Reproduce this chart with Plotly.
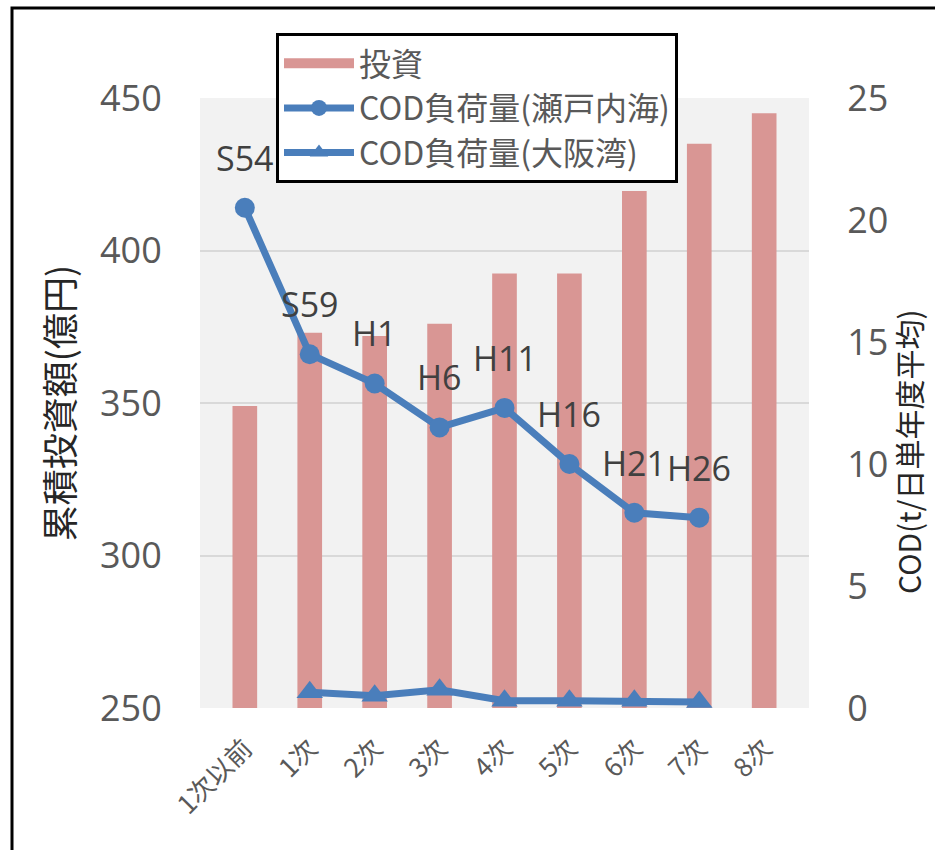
import plotly.graph_objects as go

# 累積投資額と COD 負荷量の推移
categories = ["1次以前", "1次", "2次", "3次", "4次", "5次", "6次", "7次", "8次"]
investment = [349, 373, 372, 376, 392.5, 392.5, 419.5, 435, 445]          # 億円
cod_seto = [20.5, 14.5, 13.3, 11.5, 12.3, 10.0, 8.0, 7.8, None]           # t/日
cod_osaka = [None, 0.65, 0.5, 0.75, 0.3, 0.3, 0.3, 0.25, None]            # t/日
period_labels = ["S54", "S59", "H1", "H6", "H11", "H16", "H21", "H26"]

left_ticks = [250, 300, 350, 400, 450]
right_ticks = [0, 5, 10, 15, 20, 25]

BAR_COLOR = "#D99694"
LINE_COLOR = "#4A7EBB"
TEXT_COLOR = "#595959"
FONT = "Open Sans, Noto Sans CJK JP, sans-serif"
CJK = "Noto Sans CJK JP, sans-serif"

fig = go.Figure()

fig.add_trace(go.Bar(
    x=categories, y=investment, name="投資",
    marker=dict(color=BAR_COLOR, line=dict(width=0)),
    width=0.38, yaxis="y", showlegend=False, legendgroup="inv",
))
# wide swatch for the bar series in the legend
fig.add_trace(go.Scatter(
    x=[None], y=[None], name="投資", mode="lines", legendgroup="inv",
    line=dict(color=BAR_COLOR, width=11),
))

fig.add_trace(go.Scatter(
    x=categories, y=cod_seto, name="COD負荷量(瀬戸内海)",
    mode="lines+markers", yaxis="y2", legendgroup="seto",
    line=dict(color=LINE_COLOR, width=7),
    marker=dict(symbol="circle", size=20, color=LINE_COLOR),
))

fig.add_trace(go.Scatter(
    x=categories, y=cod_osaka, name="COD負荷量(大阪湾)",
    mode="lines+markers", yaxis="y2", legendgroup="osaka",
    line=dict(color=LINE_COLOR, width=7),
    marker=dict(symbol="triangle-up", size=23, color=LINE_COLOR),
))

# 年度ラベル (瀬戸内海の各点の上)
annotations = []
for cat, val, lab in zip(categories, cod_seto, period_labels):
    annotations.append(dict(
        x=cat, y=val, xref="x", yref="y2", text=lab, showarrow=False,
        yshift=50, font=dict(family=FONT, size=34, color="#404040"),
    ))

# plot area in pixels: x 200..809, y 98..708
l, r, t, b = 200, 126, 98, 142
W, H = 935, 850
pw, ph = W - l - r, H - t - b

def px_x(v):
    return (v - l) / pw

def px_y(v):
    return (H - b - v) / ph

# right axis title, set close to the right edge
annotations.append(dict(
    x=px_x(908), y=px_y(452), xref="paper", yref="paper",
    xanchor="center", yanchor="middle", textangle=-90, showarrow=False,
    text="COD(t/日単年度平均)", borderpad=0,
    font=dict(family=CJK, size=30, color="#262626"),
))

shapes = [dict(
    type="rect", xref="paper", yref="paper",
    x0=px_x(12), x1=px_x(950), y0=px_y(870), y1=px_y(8),
    line=dict(color="black", width=3), fillcolor="rgba(0,0,0,0)", layer="above",
)]

fig.update_layout(
    width=W, height=H,
    margin=dict(l=l, r=r, t=t, b=b, pad=0, autoexpand=False),
    paper_bgcolor="white",
    plot_bgcolor="#F2F2F2",
    font=dict(family=FONT, color=TEXT_COLOR),
    showlegend=True,
    legend=dict(
        x=px_x(276), y=px_y(33), xanchor="left", yanchor="top",
        bgcolor="white", bordercolor="black", borderwidth=3,
        font=dict(family=CJK, size=32, color=TEXT_COLOR),
        itemwidth=70, traceorder="grouped", tracegroupgap=0,
    ),
    xaxis=dict(
        type="category", tickangle=-45, showgrid=False, zeroline=False,
        tickfont=dict(family=CJK, size=26, color=TEXT_COLOR),
        showline=False, ticks="outside", ticklen=14,
        tickcolor="rgba(0,0,0,0)", automargin=False,
    ),
    yaxis=dict(
        range=[250, 450], tickvals=left_ticks, showgrid=True,
        gridcolor="#D9D9D9", gridwidth=2, zeroline=False,
        ticks="outside", ticklen=30, tickcolor="rgba(0,0,0,0)",
        tickfont=dict(family=FONT, size=36, color=TEXT_COLOR),
        automargin=False,
        title=dict(text="累積投資額(億円)", standoff=14,
                   font=dict(family=CJK, size=36, color="#262626")),
    ),
    yaxis2=dict(
        range=[0, 25], tickvals=right_ticks, overlaying="y", side="right",
        showgrid=False, zeroline=False,
        ticks="outside", ticklen=30, tickcolor="rgba(0,0,0,0)",
        tickfont=dict(family=FONT, size=36, color=TEXT_COLOR),
        automargin=False,
    ),
    bargap=0.6,
    annotations=annotations,
    shapes=shapes,
)

fig.write_html("out.html")
